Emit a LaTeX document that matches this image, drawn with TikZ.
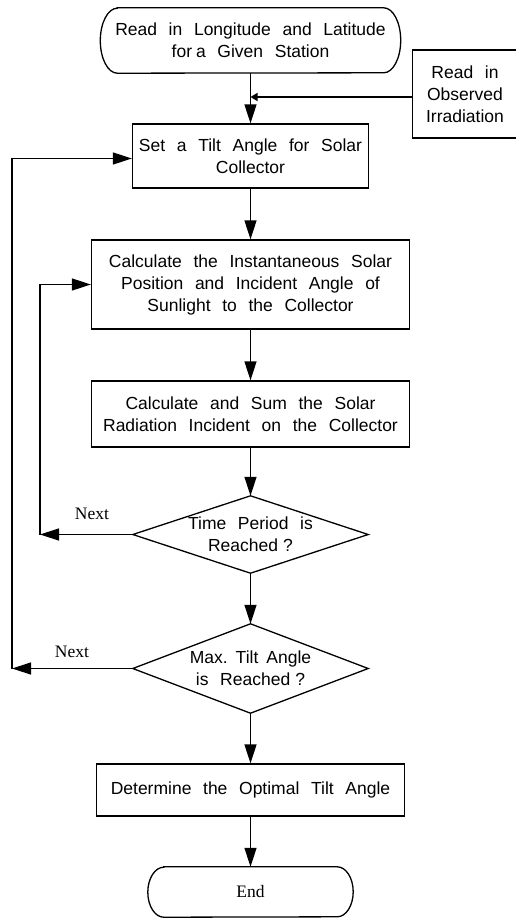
\documentclass[tikz,border=0pt]{standalone}
\usepackage{fontspec}
\usetikzlibrary{arrows.meta,calc}
\newfontfamily\arialf[WordSpace=2.4]{Liberation Sans}
\newfontfamily\timesf{Liberation Serif}
\begin{document}
\begin{tikzpicture}[x=1pt,y=1pt,
  ln/.style={line width=1.3pt},
  arr/.style={ln,-{Triangle[length=19pt,width=12pt]}},
  sarr/.style={ln,-{Triangle[length=7pt,width=8pt]}},
  txt/.style={inner sep=0pt,align=center,font=\arialf\fontsize{17.5pt}{22pt}\selectfont},
  box/.style={txt,draw,ln,rectangle},
  lbl/.style={inner sep=0pt,font=\timesf\fontsize{17.5pt}{21pt}\selectfont}
]
\useasboundingbox (0,0) rectangle (516,-918);

% start terminal
\node[txt, minimum width=300, minimum height=65] (start) at (250.5,-40.5)
  {Read in Longitude and Latitude\\for\hspace{4pt}a Given Station};
\draw[ln] ([xshift=17pt]start.north west) -- ([xshift=-17pt]start.north east)
  arc[start angle=90,end angle=-90,x radius=17pt,y radius=32.5pt]
  -- ([xshift=17pt]start.south west)
  arc[start angle=270,end angle=90,x radius=17pt,y radius=32.5pt] -- cycle;

% observed irradiation
\node[box, minimum width=105, minimum height=88] (obs) at (465,-94)
  {Read in\\Observed\\Irradiation};

\node[box, minimum width=236, minimum height=64] (set) at (250.5,-156)
  {Set a Tilt Angle for Solar\\Collector};
\node[box, minimum width=318, minimum height=89] (calc1) at (250.5,-284.5)
  {Calculate the Instantaneous Solar\\Position and Incident Angle of\\Sunlight to the Collector};
\node[box, minimum width=318, minimum height=66] (calc2) at (250.5,-414)
  {Calculate and Sum the Solar\\Radiation Incident on the Collector};

% decisions
\node[txt, minimum width=235, minimum height=77] (dia1) at (250.5,-534.5)
  {Time Period is\\Reached\hspace{5pt}?};
\draw[ln] (dia1.north) -- (dia1.east) -- (dia1.south) -- (dia1.west) -- cycle;
\node[txt, minimum width=235, minimum height=89] (dia2) at (250.5,-668.5)
  {Max.\hspace{8pt}Tilt\hspace{8pt}Angle\\is Reached\hspace{5pt}?};
\draw[ln] (dia2.north) -- (dia2.east) -- (dia2.south) -- (dia2.west) -- cycle;

\node[box, minimum width=308, minimum height=52] (det) at (250.5,-790)
  {Determine the Optimal Tilt Angle};

% end terminal
\node[lbl, minimum width=205, minimum height=50] (end) at (250.5,-892) {End};
\draw[ln] ([xshift=16pt]end.north west) -- ([xshift=-16pt]end.north east)
  arc[start angle=90,end angle=-90,x radius=16pt,y radius=25pt]
  -- ([xshift=16pt]end.south west)
  arc[start angle=270,end angle=90,x radius=16pt,y radius=25pt] -- cycle;

% main flow
\coordinate (j) at (250.5,-97);
\draw[arr] (start.south) -- (set.north);
\draw[sarr] (obs.west |- j) -- (j);
\draw[arr] (set.south) -- (calc1.north);
\draw[arr] (calc1.south) -- (calc2.north);
\draw[arr] (calc2.south) -- (dia1.north);
\draw[arr] (dia1.south) -- (dia2.north);
\draw[arr] (dia2.south) -- (det.north);
\draw[arr] (det.south) -- (end.north);

% inner loop
\coordinate (i1) at (40,-534.5);
\draw[arr] (dia1.west) -- (i1);
\draw[arr] (i1) |- (calc1.west);
\node[lbl] (n1) at (92,-514) {Next};

% outer loop
\coordinate (o1) at (12,-668.5);
\coordinate (o2) at (12,-158.5);
\draw[arr] (dia2.west) -- (o1);
\draw[arr] (o1) -- (o2) -- (set.west |- o2);
\node[lbl] (n2) at (72,-652) {Next};
\end{tikzpicture}
\end{document}
